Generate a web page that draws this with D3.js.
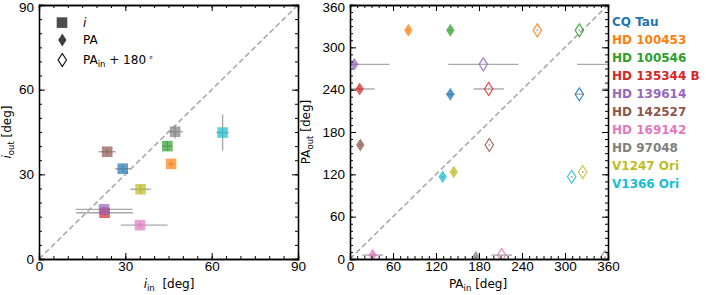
<!DOCTYPE html>
<html>
<head>
<meta charset="utf-8">
<script src="https://cdn.jsdelivr.net/npm/d3@7"></script>
<style>
  body { margin: 0; background: #fff; }
  svg { font-family: "DejaVu Sans", sans-serif; }
  .tick text { font-size: 13.5px; fill: #000; }
  .axis path, .axis line { stroke: #000; }
  .axis path { stroke-width: 1.3; }
  .lbl { font-size: 12px; white-space: pre; }
</style>
</head>
<body>
<svg id="fig" width="706" height="295"></svg>
<script>
// targets and colours
const names = ["CQ Tau", "HD 100453", "HD 100546", "HD 135344 B", "HD 139614",
               "HD 142527", "HD 169142", "HD 97048", "V1247 Ori", "V1366 Ori"];
const colors = ["#1f77b4", "#ff7f0e", "#2ca02c", "#d62728", "#9467bd",
                "#8c564b", "#e377c2", "#7f7f7f", "#bcbd22", "#17becf"];

// inclinations [deg]
const iIn      = [29.1, 45.9, 44.6, 22.8, 22.6, 23.7, 35.1, 47.3, 35.3, 63.8];
const iInErrLo = [2.7, 1.0, 1.7, 9.9, 9.9, 3.0, 6.7, 2.7, 3.5, 2.2];
const iInErrHi = [2.7, 1.0, 1.7, 9.9, 9.9, 3.0, 9.6, 2.7, 3.5, 2.2];
const iOut     = [32.0, 33.7, 40.0, 16.4, 17.6, 38.0, 12.0, 45.1, 24.7, 44.8];
const iOutErr  = [1.2, 1.0, 1.7, 1.0, 1.0, 1.0, 1.0, 2.4, 1.5, 6.4];

// position angles [deg]
const paIn     = [140.0, 81.4, 140.0, 13.5, 6.0, 14.4, 31.6, 175.8, 144.7, 129.3];
const paInErr  = [6.0, 1.0, 1.0, 21.0, 49.0, 1.0, 14.4, 1.0, 1.0, 1.0];
const paOut    = [233.4, 324.1, 324.1, 241.0, 275.9, 161.6, 5.5, 2.5, 123.3, 116.6];
const paOutErr = [1.0, 1.0, 1.0, 1.0, 1.0, 1.0, 1.0, 1.0, 1.0, 1.0];

const iTicks = [0, 30, 60, 90];
const paTicks = [0, 60, 120, 180, 240, 300, 360];

const svg = d3.select("#fig");
const yTop = 5, yBot = 259;

function panel(id, x0, x1, max, major, minorStep) {
  const x = d3.scaleLinear().domain([0, max]).range([x0, x1]);
  const y = d3.scaleLinear().domain([0, max]).range([yBot, yTop]);
  const minor = d3.range(0, max + 0.1, minorStep);

  svg.append("defs").append("clipPath").attr("id", "clip" + id)
    .append("rect").attr("x", x0).attr("y", yTop)
    .attr("width", x1 - x0).attr("height", yBot - yTop);

  const g = svg.append("g");
  const plot = g.append("g").attr("clip-path", `url(#clip${id})`);

  // one-to-one line
  plot.append("line")
    .attr("x1", x(0)).attr("y1", y(0)).attr("x2", x(max)).attr("y2", y(max))
    .attr("stroke", "#aaa").attr("stroke-width", 1.6).attr("stroke-dasharray", "5.5,3");

  // axes: minor ticks, major ticks, labelled
  const mk = (fn, tr, vals, size, labels, pad) => {
    const a = fn.tickValues(vals).tickSize(size).tickPadding(pad);
    if (!labels) a.tickFormat("");
    const ax = g.append("g").attr("class", "axis").attr("transform", tr).call(a);
    ax.selectAll(".tick line").attr("stroke-width", 1);
    return ax;
  };
  [[minor, -3, false], [major, -6, true]].forEach(([vals, size, lab]) => {
    mk(d3.axisBottom(x), `translate(0,${yBot})`, vals, size, lab, 2);
    const left = mk(d3.axisLeft(y), `translate(${x0},0)`, vals, size, lab, 5);
    // top label sits a little lower, as in the figure
    left.selectAll(".tick text").filter(d => d === max).attr("dy", "0.5em");
    mk(d3.axisTop(x), `translate(0,${yTop})`, vals, size, false, 2);
    mk(d3.axisRight(y), `translate(${x1},0)`, vals, size, false, 2);
  });
  return { x, y, plot, g };
}

// ---------- left panel: inclination ----------
const L = panel("L", 39, 298, 90, iTicks, 5);
const eb = "#a8a8a8";
names.forEach((n, k) => {
  L.plot.append("line")
    .attr("x1", L.x(iIn[k] - iInErrLo[k])).attr("x2", L.x(iIn[k] + iInErrHi[k]))
    .attr("y1", L.y(iOut[k])).attr("y2", L.y(iOut[k]))
    .attr("stroke", eb).attr("stroke-width", 1.4);
  L.plot.append("line")
    .attr("x1", L.x(iIn[k])).attr("x2", L.x(iIn[k]))
    .attr("y1", L.y(iOut[k] - iOutErr[k])).attr("y2", L.y(iOut[k] + iOutErr[k]))
    .attr("stroke", eb).attr("stroke-width", 1.4);
});
L.plot.selectAll("rect.sq").data(names).enter().append("rect")
  .attr("class", "sq")
  .attr("x", (d, k) => L.x(iIn[k]) - 5.3).attr("y", (d, k) => L.y(iOut[k]) - 5.3)
  .attr("width", 10.6).attr("height", 10.6)
  .attr("fill", (d, k) => colors[k]).attr("fill-opacity", 0.7);

// ---------- right panel: position angle ----------
const R = panel("R", 350, 608, 360, paTicks, 10);
const diamond = (cx, cy) =>
  `M${cx},${cy - 6.5}L${cx + 4.2},${cy}L${cx},${cy + 6.5}L${cx - 4.2},${cy}Z`;

names.forEach((n, k) => {
  [0, 180].forEach(off => {
    const c = paIn[k] + off;
    [-360, 0, 360].forEach(w => {
      R.plot.append("line")
        .attr("x1", R.x(c - paInErr[k] + w)).attr("x2", R.x(c + paInErr[k] + w))
        .attr("y1", R.y(paOut[k])).attr("y2", R.y(paOut[k]))
        .attr("stroke", eb).attr("stroke-width", 1.4);
    });
    R.plot.append("line")
      .attr("x1", R.x(c)).attr("x2", R.x(c))
      .attr("y1", R.y(paOut[k] - paOutErr[k])).attr("y2", R.y(paOut[k] + paOutErr[k]))
      .attr("stroke", eb).attr("stroke-width", 1.4);
  });
});
names.forEach((n, k) => {
  R.plot.append("path").attr("d", diamond(R.x(paIn[k]), R.y(paOut[k])))
    .attr("fill", colors[k]).attr("fill-opacity", 0.75);
  R.plot.append("path").attr("d", diamond(R.x(paIn[k] + 180), R.y(paOut[k])))
    .attr("fill", "none").attr("stroke", colors[k]).attr("stroke-width", 1.2)
    .attr("stroke-opacity", 0.85);
});

// ---------- axis labels ----------
function label(x, y, rot, parts) {
  const t = svg.append("text").attr("class", "lbl")
    .attr("transform", `translate(${x},${y}) rotate(${rot})`)
    .attr("text-anchor", "middle");
  parts.forEach(p => {
    const s = t.append("tspan").text(p.t);
    if (p.it) s.attr("font-style", "italic");
    if (p.sub) s.attr("font-size", "8.5px").attr("dy", 3);
    if (p.up) s.attr("dy", -3);
  });
  return t;
}
label(169, 288, 0, [{ t: "i", it: true }, { t: "in", sub: true }, { t: "  [deg]", up: true }]);
label(478, 288, 0, [{ t: "PA" }, { t: "in", sub: true }, { t: " [deg]", up: true }]);
label(11, 132, -90, [{ t: "i", it: true }, { t: "out", sub: true }, { t: " [deg]", up: true }]);
label(310, 132, -90, [{ t: "PA" }, { t: "out", sub: true }, { t: " [deg]", up: true }]);

// ---------- marker legend (left panel) ----------
const lg = svg.append("g");
lg.append("rect").attr("x", 56.7).attr("y", 17.3).attr("width", 10.6).attr("height", 10.6)
  .attr("fill", "#000").attr("fill-opacity", 0.7);
lg.append("path").attr("d", diamond(62.3, 40)).attr("fill", "#000").attr("fill-opacity", 0.75);
lg.append("path").attr("d", diamond(62.3, 60)).attr("fill", "none").attr("stroke", "#000")
  .attr("stroke-width", 1.1);
const lt = (y, parts) => {
  const t = lg.append("text").attr("class", "lbl").attr("x", 83).attr("y", y + 4.3);
  parts.forEach(p => {
    const s = t.append("tspan").text(p.t);
    if (p.it) s.attr("font-style", "italic");
    if (p.sub) s.attr("font-size", "8.5px").attr("dy", 3);
    if (p.up) s.attr("dy", -3);
    if (p.sup) s.attr("font-size", "8px").attr("dy", -4);
  });
};
lt(22.3, [{ t: "i", it: true }]);
lt(40, [{ t: "PA" }]);
lt(60, [{ t: "PA" }, { t: "in", sub: true }, { t: " + 180", up: true }, { t: " \u2218", sup: true }]);

// ---------- target legend (right) ----------
svg.append("g").selectAll("text").data(names).enter().append("text")
  .attr("x", 612).attr("y", (d, k) => 21.3 + k * 18 + 4.3)
  .attr("font-size", "12px").attr("font-weight", "bold")
  .attr("fill", (d, k) => colors[k])
  .text(d => d);
</script>
</body>
</html>
